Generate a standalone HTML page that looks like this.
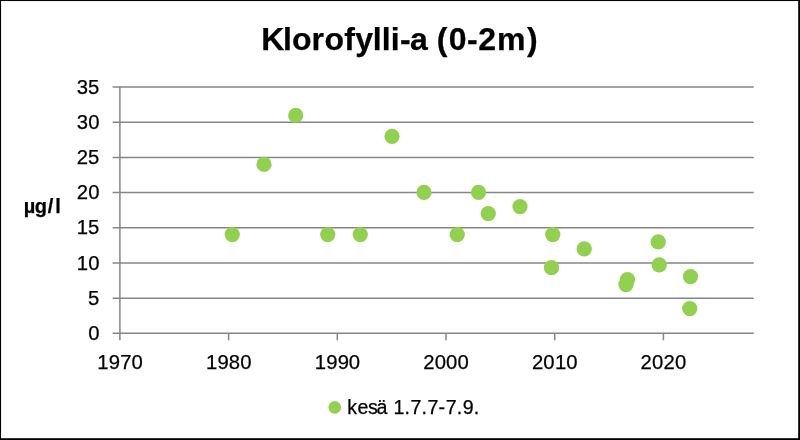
<!DOCTYPE html>
<html lang="fi"><head><meta charset="utf-8"><title>Klorofylli-a (0-2m)</title>
<style>
html,body{margin:0;padding:0;background:#fff;}
body{width:800px;height:440px;overflow:hidden;position:relative;}
svg{display:block;position:absolute;left:0;top:0;will-change:transform;}
text{font-family:"Liberation Sans",sans-serif;fill:#000;stroke:#000;stroke-width:0.25px;}
.b{font-weight:bold;}
</style></head><body>
<svg width="800" height="440" viewBox="0 0 800 440">
<rect x="0" y="0" width="800" height="440" fill="#000"/>
<rect x="1.05" y="1.05" width="797.15" height="437.15" fill="#fff"/>

<line x1="112.60" y1="333.30" x2="753.75" y2="333.30" stroke="#868686" stroke-width="1.5"/>
<line x1="112.60" y1="298.13" x2="753.75" y2="298.13" stroke="#868686" stroke-width="1.5"/>
<line x1="112.60" y1="262.96" x2="753.75" y2="262.96" stroke="#868686" stroke-width="1.5"/>
<line x1="112.60" y1="227.79" x2="753.75" y2="227.79" stroke="#868686" stroke-width="1.5"/>
<line x1="112.60" y1="192.61" x2="753.75" y2="192.61" stroke="#868686" stroke-width="1.5"/>
<line x1="112.60" y1="157.44" x2="753.75" y2="157.44" stroke="#868686" stroke-width="1.5"/>
<line x1="112.60" y1="122.27" x2="753.75" y2="122.27" stroke="#868686" stroke-width="1.5"/>
<line x1="112.60" y1="87.10" x2="753.75" y2="87.10" stroke="#868686" stroke-width="1.5"/>
<line x1="119.90" y1="86.40" x2="119.90" y2="340.30" stroke="#868686" stroke-width="1.5"/>
<line x1="228.60" y1="333.30" x2="228.60" y2="340.30" stroke="#868686" stroke-width="1.5"/>
<line x1="337.30" y1="333.30" x2="337.30" y2="340.30" stroke="#868686" stroke-width="1.5"/>
<line x1="446.00" y1="333.30" x2="446.00" y2="340.30" stroke="#868686" stroke-width="1.5"/>
<line x1="554.70" y1="333.30" x2="554.70" y2="340.30" stroke="#868686" stroke-width="1.5"/>
<line x1="663.40" y1="333.30" x2="663.40" y2="340.30" stroke="#868686" stroke-width="1.5"/>
<circle cx="232.25" cy="234.60" r="7.65" fill="#92D050"/>
<circle cx="264.00" cy="164.40" r="7.65" fill="#92D050"/>
<circle cx="295.75" cy="115.40" r="7.65" fill="#92D050"/>
<circle cx="327.75" cy="234.60" r="7.65" fill="#92D050"/>
<circle cx="360.25" cy="234.60" r="7.65" fill="#92D050"/>
<circle cx="392.00" cy="136.30" r="7.65" fill="#92D050"/>
<circle cx="424.00" cy="192.40" r="7.65" fill="#92D050"/>
<circle cx="457.25" cy="234.60" r="7.65" fill="#92D050"/>
<circle cx="478.50" cy="192.40" r="7.65" fill="#92D050"/>
<circle cx="488.25" cy="213.60" r="7.65" fill="#92D050"/>
<circle cx="520.00" cy="206.60" r="7.65" fill="#92D050"/>
<circle cx="552.75" cy="234.60" r="7.65" fill="#92D050"/>
<circle cx="551.50" cy="267.70" r="7.65" fill="#92D050"/>
<circle cx="584.25" cy="248.80" r="7.65" fill="#92D050"/>
<circle cx="627.50" cy="279.60" r="7.65" fill="#92D050"/>
<circle cx="626.00" cy="284.60" r="7.65" fill="#92D050"/>
<circle cx="658.25" cy="241.80" r="7.65" fill="#92D050"/>
<circle cx="659.25" cy="264.90" r="7.65" fill="#92D050"/>
<circle cx="690.50" cy="276.60" r="7.65" fill="#92D050"/>
<circle cx="689.75" cy="308.60" r="7.65" fill="#92D050"/>
<text x="88.13" y="339.90" font-size="20.3">0</text>
<text x="87.99" y="304.73" font-size="20.3">5</text>
<text x="76.86 88.13" y="269.56" font-size="20.3">10</text>
<text x="76.86 87.99" y="234.39" font-size="20.3">15</text>
<text x="76.70 88.13" y="199.21" font-size="20.3">20</text>
<text x="76.70 87.99" y="164.04" font-size="20.3">25</text>
<text x="76.83 88.13" y="128.87" font-size="20.3">30</text>
<text x="76.83 87.99" y="93.70" font-size="20.3">35</text>
<text x="97.26 108.87 120.15 131.44" y="369" font-size="20.3">1970</text>
<text x="205.96 217.57 228.68 240.14" y="369" font-size="20.3">1980</text>
<text x="314.66 326.27 337.72 348.84" y="369" font-size="20.3">1990</text>
<text x="423.20 434.63 446.08 457.54" y="369" font-size="20.3">2000</text>
<text x="531.90 543.33 554.97 566.24" y="369" font-size="20.3">2010</text>
<text x="640.60 652.03 663.51 674.94" y="369" font-size="20.3">2020</text>
<text class="b" x="261.30 282.97 291.89 311.60 324.42 344.24 355.15 372.83 381.78 390.69 399.89 410.01 428.76 436.81 448.71 467.08 478.37 497.12 526.95" y="50.2" font-size="32">Klorofylli-a (0-2m)</text>
<text class="b" x="23.76 34.77 47.75 55.25" y="212.5" font-size="20">µg/l</text>
<circle cx="334.75" cy="407.4" r="6.3" fill="#92D050"/>
<text x="347.28 357.53 368.09 376.55 388.01 393.49 404.51 410.46 421.52 427.47 438.60 445.67 456.72 462.85 473.73" y="413.8" font-size="19.6">kesä 1.7.7-7.9.</text>
</svg>
</body></html>
